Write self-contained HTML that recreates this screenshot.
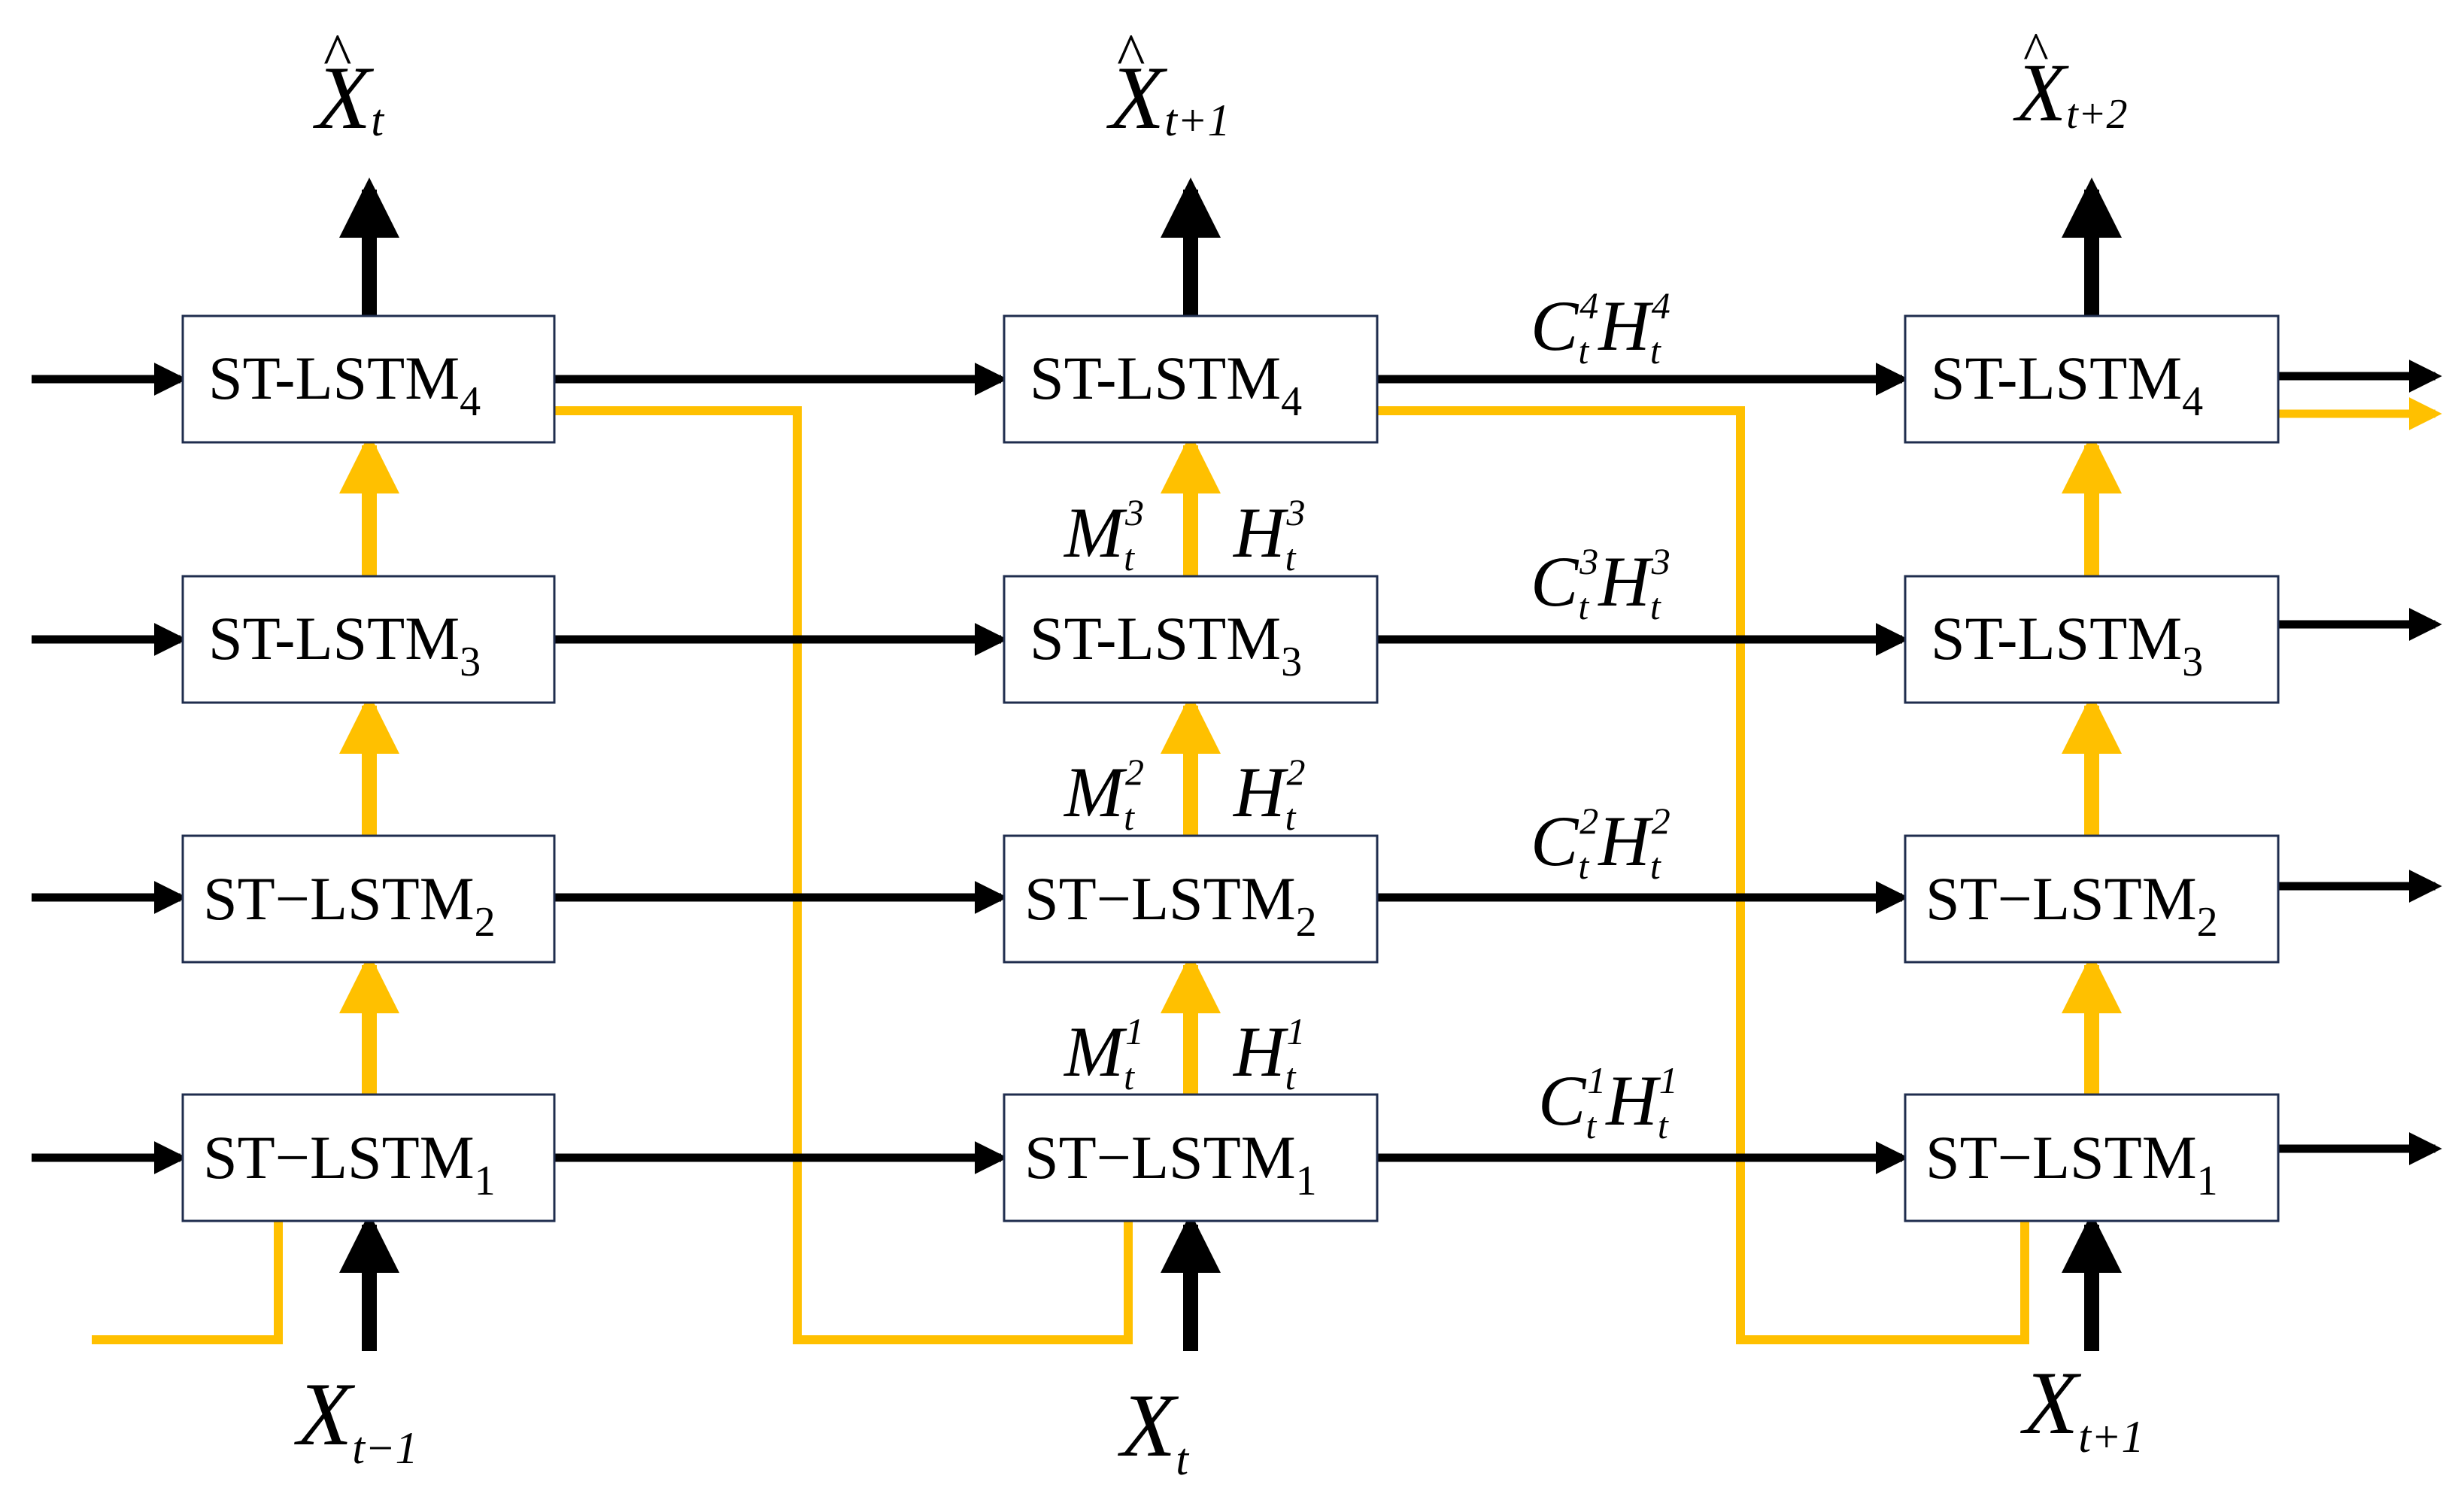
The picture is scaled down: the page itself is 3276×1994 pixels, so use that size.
<!DOCTYPE html>
<html><head><meta charset="utf-8"><style>html,body{margin:0;padding:0;background:#fff}svg{display:block}</style></head><body>
<svg width="3276" height="1994" viewBox="0 0 3276 1994" xmlns="http://www.w3.org/2000/svg" font-family="Liberation Serif, serif">
<defs>
<marker id="ah" markerWidth="4" markerHeight="4" refX="3.2" refY="2" orient="auto" markerUnits="strokeWidth"><path d="M0,0 L4,2 L0,4 Z" fill="#000"/></marker>
<marker id="ahy" markerWidth="4" markerHeight="4" refX="3.2" refY="2" orient="auto" markerUnits="strokeWidth"><path d="M0,0 L4,2 L0,4 Z" fill="#FFC000"/></marker>
</defs>
<g fill="none" stroke="#FFC000" stroke-width="12">
<polyline points="122,1781 370,1781 370,1623"/>
<polyline points="737,546 1060,546 1060,1781 1500,1781 1500,1623"/>
<polyline points="1831,546 2314,546 2314,1781 2692,1781 2692,1623"/>
</g>
<g stroke="#000" stroke-width="11" marker-end="url(#ah)">
<line x1="42" y1="504" x2="240" y2="504"/>
<line x1="42" y1="850" x2="240" y2="850"/>
<line x1="42" y1="1193" x2="240" y2="1193"/>
<line x1="42" y1="1539" x2="240" y2="1539"/>
<line x1="737" y1="504" x2="1331" y2="504"/>
<line x1="737" y1="850" x2="1331" y2="850"/>
<line x1="737" y1="1193" x2="1331" y2="1193"/>
<line x1="737" y1="1539" x2="1331" y2="1539"/>
<line x1="1831" y1="504" x2="2529" y2="504"/>
<line x1="1831" y1="850" x2="2529" y2="850"/>
<line x1="1831" y1="1193" x2="2529" y2="1193"/>
<line x1="1831" y1="1539" x2="2529" y2="1539"/>
<line x1="3029" y1="500" x2="3238" y2="500"/>
<line x1="3029" y1="830" x2="3238" y2="830"/>
<line x1="3029" y1="1178" x2="3238" y2="1178"/>
<line x1="3029" y1="1527" x2="3238" y2="1527"/>
</g>
<line x1="3029" y1="550" x2="3238" y2="550" stroke="#FFC000" stroke-width="11" marker-end="url(#ahy)"/>
<g stroke="#000" stroke-width="20" marker-end="url(#ah)">
<line x1="491" y1="420" x2="491" y2="252"/>
<line x1="1583" y1="420" x2="1583" y2="252"/>
<line x1="2781" y1="420" x2="2781" y2="252"/>
<line x1="491" y1="1796" x2="491" y2="1628"/>
<line x1="1583" y1="1796" x2="1583" y2="1628"/>
<line x1="2781" y1="1796" x2="2781" y2="1628"/>
</g>
<g stroke="#FFC000" stroke-width="20" marker-end="url(#ahy)">
<line x1="491" y1="766" x2="491" y2="592"/>
<line x1="491" y1="1111" x2="491" y2="938"/>
<line x1="491" y1="1455" x2="491" y2="1283"/>
<line x1="1583" y1="766" x2="1583" y2="592"/>
<line x1="1583" y1="1111" x2="1583" y2="938"/>
<line x1="1583" y1="1455" x2="1583" y2="1283"/>
<line x1="2781" y1="766" x2="2781" y2="592"/>
<line x1="2781" y1="1111" x2="2781" y2="938"/>
<line x1="2781" y1="1455" x2="2781" y2="1283"/>
</g>
<g fill="#fff" stroke="#1F2D4E" stroke-width="3">
<rect x="243" y="420" width="494" height="168"/><rect x="243" y="766" width="494" height="168"/><rect x="243" y="1111" width="494" height="168"/><rect x="243" y="1455" width="494" height="168"/>
<rect x="1335" y="420" width="496" height="168"/><rect x="1335" y="766" width="496" height="168"/><rect x="1335" y="1111" width="496" height="168"/><rect x="1335" y="1455" width="496" height="168"/>
<rect x="2533" y="420" width="496" height="168"/><rect x="2533" y="766" width="496" height="168"/><rect x="2533" y="1111" width="496" height="168"/><rect x="2533" y="1455" width="496" height="168"/>
</g>
<g font-size="82" fill="#000">
<text x="277" y="530">ST-LSTM<tspan font-size="56" dy="22">4</tspan></text>
<text x="277" y="876">ST-LSTM<tspan font-size="56" dy="22">3</tspan></text>
<text x="270" y="1222">ST−LSTM<tspan font-size="56" dy="22">2</tspan></text>
<text x="270" y="1566">ST−LSTM<tspan font-size="56" dy="22">1</tspan></text>
<text x="1369" y="530">ST-LSTM<tspan font-size="56" dy="22">4</tspan></text>
<text x="1369" y="876">ST-LSTM<tspan font-size="56" dy="22">3</tspan></text>
<text x="1362" y="1222">ST−LSTM<tspan font-size="56" dy="22">2</tspan></text>
<text x="1362" y="1566">ST−LSTM<tspan font-size="56" dy="22">1</tspan></text>
<text x="2567" y="530">ST-LSTM<tspan font-size="56" dy="22">4</tspan></text>
<text x="2567" y="876">ST-LSTM<tspan font-size="56" dy="22">3</tspan></text>
<text x="2560" y="1222">ST−LSTM<tspan font-size="56" dy="22">2</tspan></text>
<text x="2560" y="1566">ST−LSTM<tspan font-size="56" dy="22">1</tspan></text>
</g>
<g font-style="italic" fill="#000">
<text x="420" y="170" font-size="120">X<tspan font-size="60" dy="10">t</tspan></text>
<text x="430" y="100" font-size="80" font-style="normal">^</text>
<text x="1475" y="170" font-size="120">X<tspan font-size="60" dy="10">t+1</tspan></text>
<text x="1485" y="100" font-size="80" font-style="normal">^</text>
<text x="2680" y="160" font-size="110">X<tspan font-size="56" dy="10">t+2</tspan></text>
<text x="2690" y="92" font-size="72" font-style="normal">^</text>
<text x="395" y="1920" font-size="120">X<tspan font-size="60" dy="25">t−1</tspan></text>
<text x="1490" y="1935" font-size="120">X<tspan font-size="60" dy="25">t</tspan></text>
<text x="2690" y="1905" font-size="120">X<tspan font-size="60" dy="25">t+1</tspan></text>
<g font-size="95">
<text x="1415" y="740">M<tspan font-size="50" dy="18">t</tspan><tspan font-size="50" dy="-60" dx="-12">3</tspan></text>
<text x="1640" y="740">H<tspan font-size="50" dy="18">t</tspan><tspan font-size="50" dy="-60" dx="-12">3</tspan></text>
<text x="1415" y="1085">M<tspan font-size="50" dy="18">t</tspan><tspan font-size="50" dy="-60" dx="-12">2</tspan></text>
<text x="1640" y="1085">H<tspan font-size="50" dy="18">t</tspan><tspan font-size="50" dy="-60" dx="-12">2</tspan></text>
<text x="1415" y="1430">M<tspan font-size="50" dy="18">t</tspan><tspan font-size="50" dy="-60" dx="-12">1</tspan></text>
<text x="1640" y="1430">H<tspan font-size="50" dy="18">t</tspan><tspan font-size="50" dy="-60" dx="-12">1</tspan></text>
<text x="2035" y="465">C<tspan font-size="50" dy="18">t</tspan><tspan font-size="50" dy="-60" dx="-12">4</tspan><tspan dy="42">H</tspan><tspan font-size="50" dy="18">t</tspan><tspan font-size="50" dy="-60" dx="-12">4</tspan></text>
<text x="2035" y="805">C<tspan font-size="50" dy="18">t</tspan><tspan font-size="50" dy="-60" dx="-12">3</tspan><tspan dy="42">H</tspan><tspan font-size="50" dy="18">t</tspan><tspan font-size="50" dy="-60" dx="-12">3</tspan></text>
<text x="2035" y="1150">C<tspan font-size="50" dy="18">t</tspan><tspan font-size="50" dy="-60" dx="-12">2</tspan><tspan dy="42">H</tspan><tspan font-size="50" dy="18">t</tspan><tspan font-size="50" dy="-60" dx="-12">2</tspan></text>
<text x="2045" y="1495">C<tspan font-size="50" dy="18">t</tspan><tspan font-size="50" dy="-60" dx="-12">1</tspan><tspan dy="42">H</tspan><tspan font-size="50" dy="18">t</tspan><tspan font-size="50" dy="-60" dx="-12">1</tspan></text>
</g>
</g>
</svg>
</body></html>
